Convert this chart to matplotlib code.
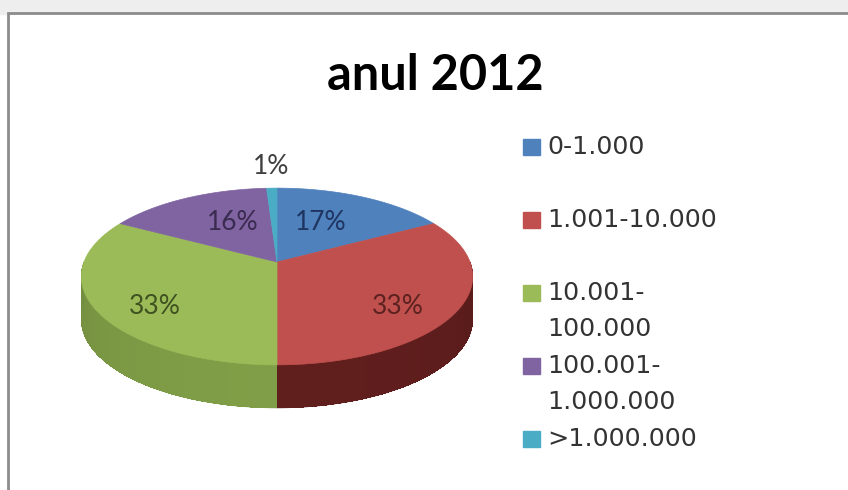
import numpy as np
import matplotlib.pyplot as plt
from matplotlib.patches import Polygon, Rectangle
import matplotlib.colors as mcolors

# data
categories = ["0-1.000", "1.001-10.000", "10.001-\n100.000", "100.001-\n1.000.000", ">1.000.000"]
values = [17, 33, 33, 16, 1]
title = "anul 2012"

top_colors = ["#4F81BD", "#C0504D", "#9BBB59", "#8064A2", "#4BACC6"]
side_colors = ["#2f4d72", "#561b1a", "#728d3f", "#4d3c62", "#2d6777"]
label_colors = ["#1f3561", "#5c2220", "#3f5220", "#3a2b50", "#404040"]

# pie geometry (pixels)
cx, cy = 277, 262
A, B, k = 193, 86, 0.164
H = 43


def proj(theta, r=1.0):
    # theta: clockwise from 12 o'clock
    u = r * np.sin(theta)
    v = r * np.cos(theta)
    w = 1 + k * v
    return cx + A * u / w, cy - B * v / w


fig = plt.figure(figsize=(8.48, 4.9), dpi=100)
ax = fig.add_axes([0, 0, 1, 1])
ax.set_xlim(0, 848)
ax.set_ylim(490, 0)
ax.axis("off")

# background + chart frame
ax.add_patch(Rectangle((0, 0), 848, 14, color="#eeeeee", zorder=0))
ax.add_patch(Rectangle((8, 13), 900, 600, facecolor="white", edgecolor="#8c8c8c", lw=2.0, zorder=1))

fracs = np.array(values) / sum(values)
starts = np.concatenate([[0], np.cumsum(fracs)[:-1]]) * 2 * np.pi
ends = np.cumsum(fracs) * 2 * np.pi

# side wall (near half only)
for i in range(len(values)):
    a0, a1 = max(starts[i], np.pi / 2), min(ends[i], 3 * np.pi / 2)
    if a1 <= a0:
        continue
    ts = np.linspace(a0, a1, 60)
    xs, ys = proj(ts)
    outline = list(zip(xs, ys)) + list(zip(xs[::-1], ys[::-1] + H))
    ax.add_patch(Polygon(outline, closed=True, facecolor=side_colors[i],
                         edgecolor=side_colors[i], lw=0.5, zorder=2))
    base = np.array(mcolors.to_rgb(side_colors[i]))
    for t0, t1 in zip(ts[:-1], ts[1:]):
        x0, y0 = proj(t0)
        x1, y1 = proj(t1)
        tm = 0.5 * (t0 + t1)
        f = 1.0 + 0.12 * abs(np.cos(tm - np.pi))
        c = np.clip(base * f, 0, 1)
        ax.add_patch(Polygon([[x0, y0], [x1, y1], [x1, y1 + H], [x0, y0 + H]],
                             closed=True, facecolor=c, lw=0, antialiased=False, zorder=2.5))

# top face
for i in range(len(values)):
    ts = np.linspace(starts[i], ends[i], 120)
    xs, ys = proj(ts)
    pts = [[cx, cy]] + list(zip(xs, ys))
    ax.add_patch(Polygon(pts, closed=True, facecolor=top_colors[i],
                         edgecolor=top_colors[i], lw=0.5, zorder=3))

# data labels
label_xy = [(321, 222), (398, 306), (155, 306), (233, 222), (271, 166)]
for i, v in enumerate(values):
    ax.text(label_xy[i][0], label_xy[i][1], f"{v}%", ha="center", va="center",
            fontsize=19, family="Lato", color=label_colors[i], zorder=5)

# title
ax.text(435, 75, title, ha="center", va="center", fontsize=35, family="Lato",
        fontweight="bold", color="black", zorder=5)

# legend
for i, lab in enumerate(categories):
    y = 147 + 73 * i
    ax.add_patch(Rectangle((523, y - 8), 17, 16, color=top_colors[i], zorder=5))
    for j, line in enumerate(lab.split("\n")):
        ax.text(547, y + 36 * j, line, ha="left", va="center", fontsize=18.3,
                family="DejaVu Sans", color="#333333", zorder=5)

fig.savefig("out.png", dpi=100)
